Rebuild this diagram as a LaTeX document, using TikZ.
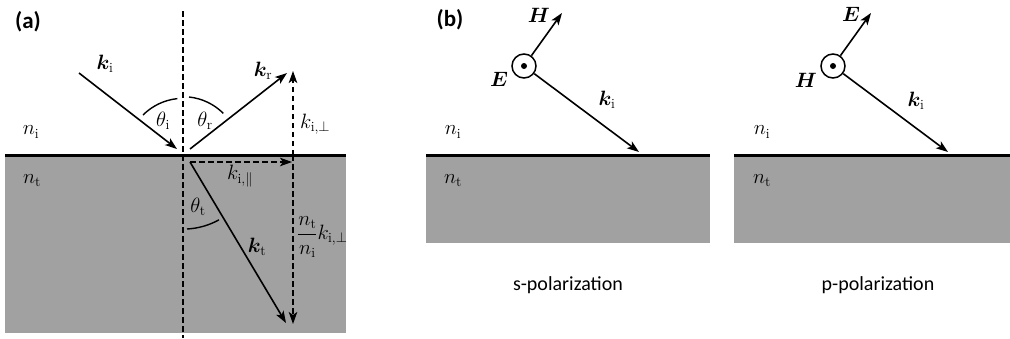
\documentclass[tikz,border=0pt]{standalone}
\usepackage{amsmath,bm}
\usepackage{fontspec}
\setsansfont{Carlito}
\DeclareMathSizes{22}{22}{14}{10}
\usetikzlibrary{arrows.meta}
\definecolor{subgray}{RGB}{161,161,161}
\tikzset{
  vec/.style={line width=1.6pt,-{Stealth[length=12pt,width=8.5pt,inset=3pt]}},
  dvec/.style={vec,dash pattern=on 5.5pt off 3.5pt},
  normline/.style={line width=1.6pt,dash pattern=on 5.5pt off 3.5pt},
  surf/.style={line width=2.2pt},
  medfill/.style={fill=subgray},
  lbl/.style={inner sep=0pt,font=\fontsize{22}{26}\selectfont},
  panel/.style={inner sep=0pt,font=\sffamily\bfseries\fontsize{23}{26}\selectfont},
  captext/.style={inner sep=0pt,font=\sffamily\fontsize{20}{24}\selectfont},
  angarc/.style={line width=1.4pt},
  fieldcirc/.style={draw,circle,line width=1.5pt,minimum size=24pt,inner sep=0pt,fill=white},
}
\begin{document}
\begin{tikzpicture}[x=1pt,y=-1pt]
\useasboundingbox (0,0) rectangle (1010,338);
% ---------------- (a)
\fill[medfill] (5,156) rectangle (346,333);
\draw[surf] (5,155.5) coordinate (sa) -- (346,155.5) coordinate (sb);
\coordinate (O) at (183,155);
\coordinate (ntop) at (183,11);
\coordinate (nbot) at (183,338);
\draw[normline] (ntop) -- (nbot);
\node[panel] (la) at (28,22) {(a)};
% incident
\coordinate (is) at (79,73);
\coordinate (ie) at (177,149);
\draw[vec] (is) -- (ie);
% reflected
\coordinate (rs) at (190,149);
\coordinate (re) at (287,73);
\draw[vec] (rs) -- (re);
% k perp (up)
\coordinate (ps) at (293,155);
\coordinate (pe) at (293,71);
\draw[dvec] (ps) -- (pe);
% k parallel
\coordinate (hs) at (190,162);
\coordinate (he) at (292,162);
\draw[dvec] (hs) -- (he);
% transmitted
\coordinate (te) at (286,323);
\draw[vec] (hs) -- (te);
% scaled k perp (down)
\coordinate (ds) at (293,155);
\coordinate (de) at (293,324);
\draw[dvec] (ds) -- (de);
% angle arcs
\draw[angarc] (143,115) arc[start angle=-135,end angle=-96,radius=57];
\draw[angarc] (189,97) arc[start angle=-84,end angle=-45,radius=57];
\draw[angarc] (187,229) arc[start angle=87,end angle=61,radius=74];
% labels (a)
\node[lbl] (lki) at (105,64) {$\bm{k}_{\mathrm{i}}$};
\node[lbl] (lthi) at (163,121) {$\theta_{\mathrm{i}}$};
\node[lbl] (lthr) at (205,121) {$\theta_{\mathrm{r}}$};
\node[lbl] (lkr) at (263,71) {$\bm{k}_{\mathrm{r}}$};
\node[lbl,anchor=west] (lkp) at (300,124) {$k_{\mathrm{i},\perp}$};
\node[lbl] (lni) at (31,132) {$n_{\mathrm{i}}$};
\node[lbl] (lnt) at (32,181) {$n_{\mathrm{t}}$};
\node[lbl] (lkpar) at (240,176) {$k_{\mathrm{i},\parallel}$};
\node[lbl] (ltht) at (198,207) {$\theta_{\mathrm{t}}$};
\node[lbl] (lkt) at (257,247) {$\bm{k}_{\mathrm{t}}$};
\node[lbl,anchor=west] (lfrac) at (297,237) {$\dfrac{n_{\mathrm{t}}}{n_{\mathrm{i}}}k_{\mathrm{i},\perp}$};
% ---------------- (b) s-polarization
\fill[medfill] (426,156) rectangle (710,243);
\draw[surf] (426,155.5) -- (710,155.5);
\node[panel] (lb) at (450,20) {(b)};
\node[fieldcirc] (c1) at (524,66) {};
\fill (c1) circle (3pt);
\coordinate (h1) at (562,13);
\coordinate (k1) at (639,152);
\draw[vec] (c1) -- (h1);
\draw[vec] (c1) -- (k1);
\node[lbl] (lH1) at (539,15) {$\bm{H}$};
\node[lbl] (lE1) at (499,79) {$\bm{E}$};
\node[lbl] (lk1) at (607,100) {$\bm{k}_{\mathrm{i}}$};
\node[lbl] (lni1) at (453,132) {$n_{\mathrm{i}}$};
\node[lbl] (lnt1) at (453,181) {$n_{\mathrm{t}}$};
\node[captext] (ls) at (568,285) {s-polarization};
% ---------------- p-polarization
\fill[medfill] (734,156) rectangle (1010,243);
\draw[surf] (734,155.5) -- (1010,155.5);
\node[fieldcirc] (c2) at (833,66) {};
\fill (c2) circle (3pt);
\coordinate (e2) at (871,13);
\coordinate (k2) at (948,152);
\draw[vec] (c2) -- (e2);
\draw[vec] (c2) -- (k2);
\node[lbl] (lE2) at (851,14) {$\bm{E}$};
\node[lbl] (lH2) at (806,80) {$\bm{H}$};
\node[lbl] (lk2) at (916,101) {$\bm{k}_{\mathrm{i}}$};
\node[lbl] (lni2) at (762,132) {$n_{\mathrm{i}}$};
\node[lbl] (lnt2) at (762,181) {$n_{\mathrm{t}}$};
\node[captext] (lp) at (878,285) {p-polarization};
\end{tikzpicture}
\end{document}
